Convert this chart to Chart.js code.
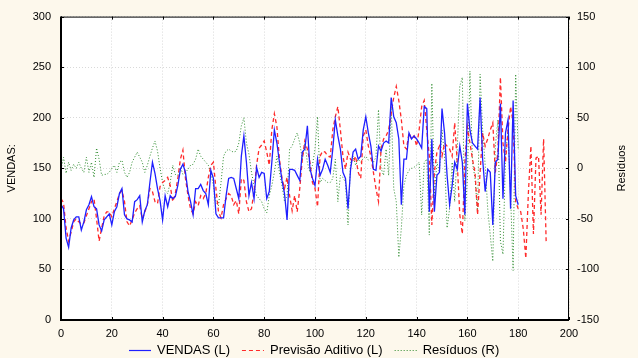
<!DOCTYPE html>
<html>
<head>
<meta charset="utf-8">
<script src="https://cdn.jsdelivr.net/npm/chart.js@4.4.0/dist/chart.umd.min.js"></script>
<style>
  html, body { margin: 0; padding: 0; background: #fdf8ec; }
  canvas { display: block; }
</style>
</head>
<body>
<canvas id="grafico" width="638" height="358"></canvas>
<script>
// ==========================
// Dados (índice = período 0, 1, 2 ...)
// ==========================
const vendas = [
  114,110,81,72,91,99,102,102,89,97,
  109,114,122,112,110,94,88,99,102,105,
  94,107,112,125,130,104,100,99,97,117,
  119,123,97,108,114,136,156,145,130,118,
  99,123,112,123,120,122,133,149,154,146,
  127,117,104,130,130,134,128,125,114,148,
  140,105,101,101,101,123,140,141,140,130,
  120,162,182,156,123,136,120,151,141,146,
  145,120,127,156,188,175,156,138,125,99,
  149,149,148,143,138,166,169,192,150,140,
  133,159,143,149,159,153,146,169,198,182,
  169,146,140,110,149,166,169,159,162,188,
  201,185,172,149,148,172,167,175,177,175,
  220,201,195,179,114,159,159,185,179,182,
  179,175,170,211,209,107,179,107,143,146,
  209,185,143,114,133,156,149,172,156,104,
  214,188,175,172,169,220,159,127,149,146,
  94,156,159,214,120,185,198,110,217,123,
  114
];

const previsao = [
  120,116,91,78,87,97,100,97,95,96,
  103,110,117,120,100,78,91,103,107,107,
  102,110,117,125,128,117,97,93,99,106,
  110,113,100,107,114,130,127,117,115,132,
  136,138,141,133,117,125,140,159,168,140,
  123,110,105,117,113,123,120,125,141,153,
  156,130,107,101,114,120,125,123,114,118,
  105,140,138,117,107,110,127,153,170,173,
  177,166,153,188,204,191,159,140,130,141,
  123,108,123,107,130,159,177,169,156,136,
  130,112,162,167,166,162,161,188,201,211,
  188,162,149,166,159,156,162,146,140,182,
  188,172,162,146,130,117,169,179,182,188,
  204,220,231,217,198,172,169,185,179,182,
  172,188,211,217,188,162,94,146,166,172,
  162,175,172,169,162,195,156,104,85,156,
  191,175,159,146,104,146,185,172,179,188,
  195,146,166,240,175,156,188,211,195,117,
  110,107,90,61,125,172,85,160,162,104,
  179,78
];

const residuos = [
  -1,11,-5,6,-2,4,0,6,0,-4,
  11,-4,6,-9,20,9,-7,-6,-6,-4,
  0,3,-4,6,8,-4,-9,-4,6,11,
  16,11,6,-4,3,12,20,27,17,0,
  -14,-22,-25,-14,3,-6,-7,1,-6,-4,
  -1,3,4,9,19,12,9,6,3,-4,
  -17,-33,-37,-14,12,17,19,17,16,17,
  25,42,50,25,14,-4,-17,-27,-30,-33,
  -40,-44,-27,-17,-4,12,-4,-17,-33,-27,
  19,22,29,35,25,9,25,6,-4,3,
  19,51,-14,-10,-12,-14,-14,-10,9,-33,
  -7,-9,-14,-56,6,12,3,9,6,10,
  12,8,10,6,11,58,0,-7,19,-7,
  61,-20,-33,-88,-59,-17,-7,-2,0,1,
  3,6,-46,6,9,-66,84,-27,6,-4,
  38,12,-59,-40,6,-33,19,81,90,-52,
  -10,96,6,-10,-43,93,38,3,-40,-66,
  -92,22,48,-72,-85,12,38,-27,-101,93,
  19
];

// eixos
const ticksX = [0, 20, 40, 60, 80, 100, 120, 140, 160, 180, 200];
const ticksEsq = [0, 50, 100, 150, 200, 250, 300];
const ticksDir = [-150, -100, -50, 0, 50, 100, 150];

const legendas = ["VENDAS (L)", "Previsão Aditivo (L)", "Resíduos (R)"];
const tituloEsq = "VENDAS:";
const tituloDir = "Resíduos";

const cores = ["#1f1fff", "#ff2a2a", "#2e8b2e"];
const tracos = [[], [4, 3], [1, 2]];

const fonte = "'Liberation Sans', Arial, sans-serif";

// ==========================
// Desenho extra : fundo, moldura, títulos, legenda
// ==========================
const molduraPlugin = {
  id: 'moldura',
  beforeDraw(chart) {
    const { ctx, chartArea: a } = chart;
    ctx.save();
    ctx.fillStyle = '#fdf8ec';
    ctx.fillRect(0, 0, chart.width, chart.height);
    ctx.fillStyle = '#ffffff';
    ctx.fillRect(a.left, a.top, a.right - a.left, a.bottom - a.top);
    ctx.restore();
  },
  afterDraw(chart) {
    const { ctx, chartArea: a, scales } = chart;
    ctx.save();

    // moldura
    ctx.strokeStyle = '#000';
    ctx.lineWidth = 1;
    ctx.strokeRect(a.left + 0.5, a.top + 0.5, a.right - a.left - 1, a.bottom - a.top - 1);
    ctx.lineWidth = 2;
    ctx.beginPath();
    ctx.moveTo(a.left, a.top);
    ctx.lineTo(a.left, a.bottom);
    ctx.lineTo(a.right, a.bottom);
    ctx.stroke();

    // marcas para dentro
    ctx.lineWidth = 1;
    ticksX.forEach(v => {
      const x = Math.round(scales.x.getPixelForValue(v)) + 0.5;
      ctx.beginPath(); ctx.moveTo(x, a.bottom); ctx.lineTo(x, a.bottom - 3); ctx.stroke();
      ctx.beginPath(); ctx.moveTo(x, a.top); ctx.lineTo(x, a.top + 3); ctx.stroke();
    });
    ticksEsq.forEach(v => {
      const y = Math.round(scales.y.getPixelForValue(v)) + 0.5;
      ctx.beginPath(); ctx.moveTo(a.left, y); ctx.lineTo(a.left + 3, y); ctx.stroke();
    });
    ticksDir.forEach(v => {
      const y = Math.round(scales.y2.getPixelForValue(v)) + 0.5;
      ctx.beginPath(); ctx.moveTo(a.right, y); ctx.lineTo(a.right - 3, y); ctx.stroke();
    });

    // títulos dos eixos
    ctx.fillStyle = '#000';
    ctx.font = '11px ' + fonte;
    ctx.textAlign = 'center';
    ctx.textBaseline = 'middle';
    const meio = (a.top + a.bottom) / 2;
    ctx.save();
    ctx.translate(12, meio);
    ctx.rotate(-Math.PI / 2);
    ctx.fillText(tituloEsq, 0, 0);
    ctx.restore();
    ctx.save();
    ctx.translate(622, meio);
    ctx.rotate(-Math.PI / 2);
    ctx.fillText(tituloDir, 0, 0);
    ctx.restore();

    // legenda
    ctx.font = '13px ' + fonte;
    ctx.textAlign = 'left';
    let x = 129;
    const y = 350;
    legendas.forEach((txt, i) => {
      ctx.strokeStyle = cores[i];
      ctx.lineWidth = 1.2;
      ctx.setLineDash(tracos[i]);
      ctx.beginPath(); ctx.moveTo(x, y + 0.5); ctx.lineTo(x + 22, y + 0.5); ctx.stroke();
      ctx.setLineDash([]);
      x += 28;
      ctx.fillText(txt, x, y);
      x += ctx.measureText(txt).width + 12;
    });

    ctx.restore();
  }
};

// ==========================
// Gráfico
// ==========================
const pontos = arr => arr.map((v, i) => ({ x: i, y: v }));

const grade = {
  color: '#d9d9d9',
  drawTicks: false
};

new Chart(document.getElementById("grafico"), {
  type: 'line',
  data: {
    datasets: [
      {
        label: legendas[0],
        data: pontos(vendas),
        yAxisID: 'y',
        borderColor: cores[0],
        borderWidth: 1.3,
        borderDash: tracos[0],
        order: 1
      },
      {
        label: legendas[1],
        data: pontos(previsao),
        yAxisID: 'y',
        borderColor: cores[1],
        borderWidth: 1.3,
        borderDash: tracos[1],
        order: 2
      },
      {
        label: legendas[2],
        data: pontos(residuos),
        yAxisID: 'y2',
        borderColor: cores[2],
        borderWidth: 1,
        borderDash: tracos[2],
        order: 3
      }
    ]
  },
  options: {
    responsive: false,
    animation: false,
    devicePixelRatio: 1,
    layout: { padding: { top: 12, right: 0, bottom: 0, left: 0 } },
    elements: { point: { radius: 0 }, line: { tension: 0, fill: false } },
    plugins: { legend: { display: false }, tooltip: { enabled: false } },
    scales: {
      x: {
        type: 'linear',
        min: 0, max: 200,
        afterBuildTicks: s => { s.ticks = ticksX.map(v => ({ value: v })); },
        afterFit: s => { s.height = 38; },
        grid: grade,
        border: { display: false, dash: [1, 2] },
        ticks: { color: '#000', font: { family: fonte, size: 11 }, padding: 7, maxRotation: 0 }
      },
      y: {
        position: 'left',
        min: 0, max: 300,
        afterBuildTicks: s => { s.ticks = ticksEsq.map(v => ({ value: v })); },
        afterFit: s => { s.width = 61; },
        grid: grade,
        border: { display: false, dash: [1, 2] },
        ticks: { color: '#000', font: { family: fonte, size: 11 }, padding: 10 }
      },
      y2: {
        position: 'right',
        min: -150, max: 150,
        afterBuildTicks: s => { s.ticks = ticksDir.map(v => ({ value: v })); },
        afterFit: s => { s.width = 69; },
        grid: { drawOnChartArea: false, drawTicks: false },
        border: { display: false },
        ticks: { color: '#000', font: { family: fonte, size: 11 }, padding: 8 }
      }
    }
  },
  plugins: [molduraPlugin]
});
</script>
</body>
</html>
